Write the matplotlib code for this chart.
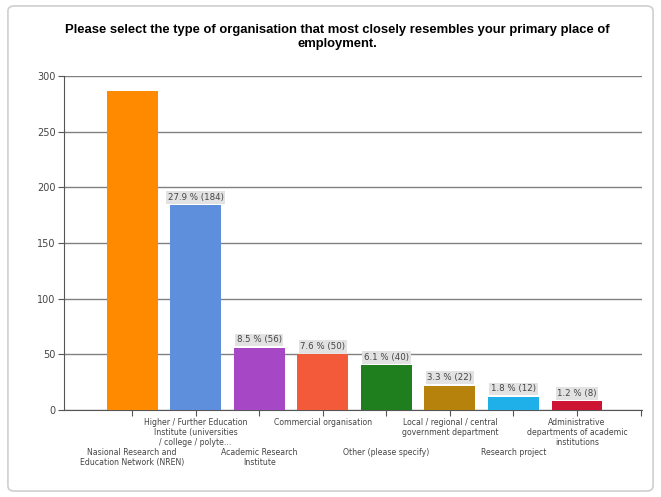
import matplotlib
matplotlib.use("Agg")
import matplotlib.pyplot as plt
from matplotlib.patches import FancyBboxPatch

categories = [
    "Nasional Research and\nEducation Network (NREN)",
    "Higher / Further Education\nInstitute (universities\n/ college / polyte...",
    "Academic Research\nInstitute",
    "Commercial organisation",
    "Other (please specify)",
    "Local / regional / central\ngovernment department",
    "Research project",
    "Administrative\ndepartments of academic\ninstitutions",
]
values = [287, 184, 56, 50, 40, 22, 12, 8]
labels = [None, "27.9 % (184)", "8.5 % (56)", "7.6 % (50)", "6.1 % (40)",
          "3.3 % (22)", "1.8 % (12)", "1.2 % (8)"]
colors = ["#FF8A00", "#5E8FDD", "#A648C6", "#F25A3A", "#1F7F1F",
          "#B7820C", "#1FB0EA", "#CD1533"]
yticks = [0, 50, 100, 150, 200, 250, 300]

fig = plt.figure(figsize=(6.61, 4.97), dpi=100)
fig.patches.append(FancyBboxPatch((0.012, 0.012), 0.976, 0.976,
                                  boxstyle="round,pad=0,rounding_size=0.01",
                                  transform=fig.transFigure, fill=False,
                                  edgecolor="#cfcfcf", lw=1.2))
ax = fig.add_axes([0.097, 0.175, 0.874, 0.672])
x = list(range(len(values)))
ax.bar(x, values, width=0.8, color=colors, zorder=3)
ax.set_xlim(-1.07, 8.02)
ax.set_ylim(0, 300)
ax.set_yticks(yticks)
ax.set_yticklabels([str(v) for v in yticks], fontsize=7, color="#444444")
ax.yaxis.grid(True, color="#808080", lw=1, zorder=0)
for s in ["top", "right"]:
    ax.spines[s].set_visible(False)
ax.spines["left"].set_color("#555555")
ax.spines["bottom"].set_color("#555555")
ax.tick_params(axis="y", length=4, color="#555555", pad=2)
ax.set_xticks(x + [8.0])
ax.set_xticklabels([])
ax.tick_params(axis="x", length=4, color="#555555", direction="out")

for i, (v, lab) in enumerate(zip(values, labels)):
    if lab:
        ax.text(i, v + 3, lab, ha="center", va="bottom", fontsize=6.2,
                color="#444444", zorder=4,
                bbox=dict(boxstyle="square,pad=0.2", fc="#e2e2e2", ec="none"))
    yoff = -0.025 if i % 2 == 1 else -0.115
    ax.text(i, yoff, categories[i], transform=ax.get_xaxis_transform(),
            ha="center", va="top", fontsize=5.6, color="#444444",
            linespacing=1.15)

fig.text(0.511, 0.925, "Please select the type of organisation that most closely resembles your primary place of\nemployment.",
         ha="center", va="center", fontsize=9.4, fontweight="bold",
         family=["Liberation Sans", "DejaVu Sans"], linespacing=1.2)

fig.savefig("out.png", dpi=100)
